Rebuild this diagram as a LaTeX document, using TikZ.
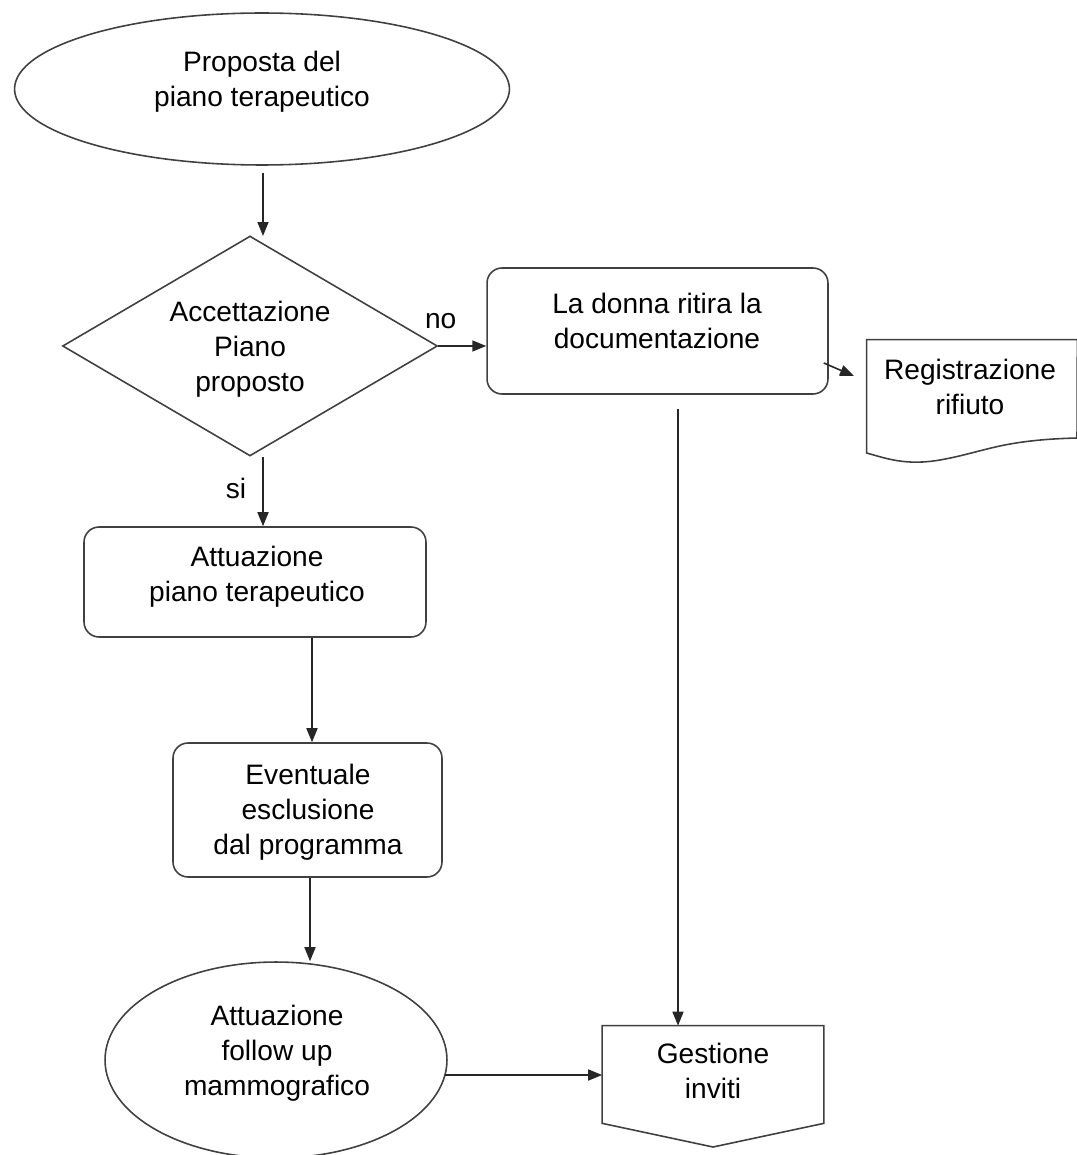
\documentclass[tikz,border=0pt]{standalone}
\usepackage{fontspec}
\setmainfont{Liberation Sans}
\usetikzlibrary{shapes.geometric,arrows.meta,calc}
\begin{document}
\begin{tikzpicture}[x=0.02cm,y=-0.02cm,
  shapeline/.style={draw=black!75,line width=0.9pt},
  boxnode/.style={shapeline,rectangle,rounded corners=0.3cm,inner sep=0pt},
  ellnode/.style={shapeline,ellipse,inner sep=0pt},
  plainbox/.style={rectangle,draw=none,inner sep=0pt},
  txt/.style={align=center,font=\fontsize{16}{20}\selectfont,inner sep=0pt},
  arr/.style={draw=black!85,line width=0.9pt,-{Triangle[length=0.28cm,width=0.22cm]}}]
\useasboundingbox (0,0) rectangle (1077,1155);

% shapes
\node[ellnode,minimum width=9.9cm,minimum height=3.04cm] (prop) at (262,89) {};
\node[txt] (propt) at (262,82) {Proposta del\\piano terapeutico};

\node[shapeline,diamond,minimum width=7.5cm,minimum height=4.4cm,inner sep=0pt] (acc) at (250,346) {};
\node[txt] (acct) at (250,349) {Accettazione\\Piano\\proposto};

\node[boxnode,minimum width=6.82cm,minimum height=2.52cm] (rit) at (657.5,331) {};
\node[txt] (ritt) at (657,321) {La donna ritira la\\documentazione};

\node[plainbox,minimum width=4.2cm,minimum height=2.0cm] (reg) at (972,390) {};
\draw[shapeline] (reg.south west) -- (reg.north west) -- (reg.north east) -- (1077,438)
  .. controls (1000,440) and (985,452) .. (940,460)
  .. controls (905,466) and (885,458) .. (reg.south west |- 0,453) -- (reg.west);
\node[txt] (regt) at (970,387) {Registrazione\\rifiuto};

\node[boxnode,minimum width=6.84cm,minimum height=2.2cm] (att) at (255,582) {};
\node[txt] (attt) at (257,577) {Attuazione\\piano terapeutico};

\node[boxnode,minimum width=5.38cm,minimum height=2.68cm] (esc) at (307.5,810) {};
\node[txt] (esct) at (308,812) {Eventuale\\esclusione\\dal programma};

\node[ellnode,minimum width=6.84cm,minimum height=3.92cm] (fol) at (276,1060) {};
\node[txt] (folt) at (277,1053) {Attuazione\\follow up\\mammografico};

\node[plainbox,minimum width=4.42cm,minimum height=1.94cm] (ges) at (713,1074.5) {};
\draw[shapeline] (ges.north west) -- (ges.north east) -- (ges.south east) -- (713,1147) -- (ges.south west) -- cycle;
\node[txt] (gest) at (713,1071) {Gestione\\inviti};

% connectors
\draw[arr,shorten <=0.14cm] (prop.south -| 263,0) -- (263,236);
\draw[arr] (acc.east) -- node[txt,above=0.32cm,pos=0.05] (nolbl) {no} (rit.west |- acc.east);
\draw[arr] ($(rit.east)+(-5,32)$) -- (854,376);
\coordinate (ritout) at (678,409);
\draw[arr] (ritout) -- (ritout |- ges.north);
\draw[arr] (263,457) -- node[txt,left=0.32cm,pos=0.45] (silbl) {si} (263,0 |- att.north);
\draw[arr] (312,0 |- att.south) -- (312,0 |- esc.north);
\draw[arr] (310,0 |- esc.south) -- (310,0 |- fol.north);
\draw[arr] ($(fol.east)+(-0.06cm,-0.3cm)$) -- (ges.west |- 0,1075);
\end{tikzpicture}
\end{document}
